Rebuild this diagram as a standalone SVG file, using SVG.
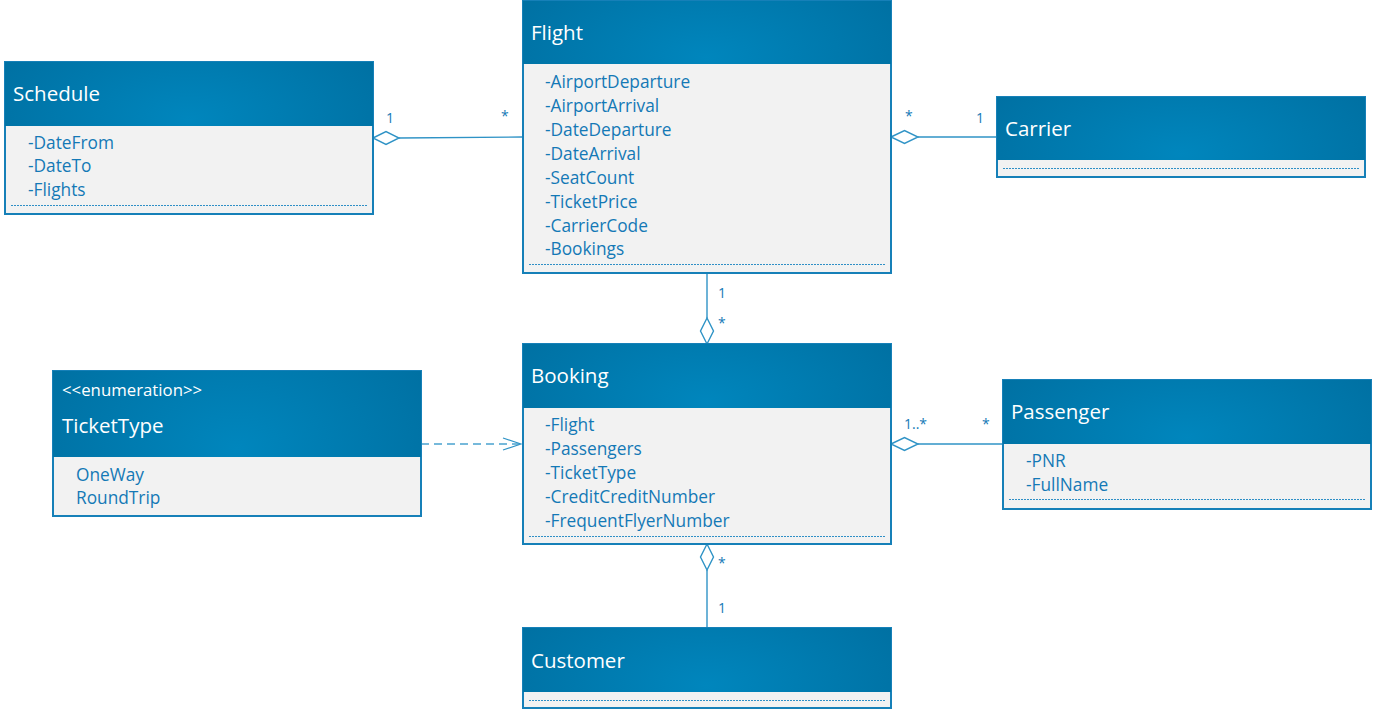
<svg xmlns="http://www.w3.org/2000/svg" width="1373" height="710" viewBox="0 0 1373 710">
<defs>
<radialGradient id="hdr" cx="0.5" cy="0.9" r="0.6" gradientTransform="translate(0.5 0.9) scale(1 3) translate(-0.5 -0.9)">
<stop offset="0" stop-color="#0086bd"/>
<stop offset="1" stop-color="#0070a2"/>
</radialGradient>
<marker id="open" markerWidth="20" markerHeight="14" refX="19" refY="7" orient="auto" markerUnits="userSpaceOnUse">
<path d="M1,1 L19,7 L1,13" fill="none" stroke="#2f93c6" stroke-width="1.2"/>
</marker>
</defs>
<style>
.box{fill:#f2f2f2;stroke:#1680b8;stroke-width:2}
.hd{fill:url(#hdr)}
.title{font-family:"Open Sans","Noto Sans",sans-serif;font-size:20.5px;fill:#ffffff}
.stereo{font-family:"Open Sans","Noto Sans",sans-serif;font-size:16.8px;fill:#ffffff}
.attr{font-family:"Open Sans","Noto Sans",sans-serif;font-size:17.3px;fill:#1479b6}
.dot{stroke:#2f8fc6;stroke-width:1;stroke-dasharray:2 1;fill:none;shape-rendering:crispEdges}
.ln{stroke:#2f93c6;stroke-width:1.4;fill:none}
.dia{fill:#ffffff;stroke:#2f93c6;stroke-width:1.4}
.mult{font-family:"Open Sans","Noto Sans",sans-serif;font-size:14px;fill:#1479b6}
.dash{stroke:#4aa3cf;stroke-width:1.4;stroke-dasharray:8 5;fill:none}
</style>
<g id="connectors">
<line class="ln" x1="399" y1="138" x2="522" y2="137"/>
<polygon class="dia" points="373,138 386,131.5 399,138 386,144.5"/>
<text class="mult" x="386" y="123">1</text>
<text class="mult" x="501" y="121">*</text>
<line class="ln" x1="918" y1="137" x2="997" y2="137"/>
<polygon class="dia" points="891,137 904.5,130.5 918,137 904.5,143.5"/>
<text class="mult" x="905" y="121">*</text>
<text class="mult" x="976" y="123">1</text>
<line class="ln" x1="707" y1="273" x2="707" y2="318"/>
<polygon class="dia" points="707,318 713.5,331 707,344 700.5,331"/>
<text class="mult" x="718" y="298">1</text>
<text class="mult" x="718" y="328">*</text>
<line class="dash" x1="421" y1="444" x2="521" y2="444" marker-end="url(#open)"/>
<line class="ln" x1="918" y1="444" x2="1002" y2="444"/>
<polygon class="dia" points="891,444 904.5,437.5 918,444 904.5,450.5"/>
<text class="mult" x="904" y="429">1..*</text>
<text class="mult" x="982" y="429">*</text>
<line class="ln" x1="707" y1="570" x2="707" y2="628"/>
<polygon class="dia" points="707,544 713.5,557 707,570 700.5,557"/>
<text class="mult" x="718" y="568">*</text>
<text class="mult" x="718" y="613">1</text>
</g>
<g id="schedule">
<rect class="box" x="5" y="62" width="368" height="152"/>
<rect class="hd" x="5" y="62" width="368" height="64"/>
<text class="title" x="13" y="101">Schedule</text>
<text class="attr" x="28" y="149">-DateFrom</text>
<text class="attr" x="28" y="172">-DateTo</text>
<text class="attr" x="28" y="196">-Flights</text>
<line class="dot" x1="11" y1="205.5" x2="367" y2="205.5"/>
</g>
<g id="flight">
<rect class="box" x="523" y="1" width="368" height="272"/>
<rect class="hd" x="523" y="1" width="368" height="63"/>
<text class="title" x="531" y="40">Flight</text>
<text class="attr" x="545" y="88">-AirportDeparture</text>
<text class="attr" x="545" y="112">-AirportArrival</text>
<text class="attr" x="545" y="136">-DateDeparture</text>
<text class="attr" x="545" y="160">-DateArrival</text>
<text class="attr" x="545" y="184">-SeatCount</text>
<text class="attr" x="545" y="208">-TicketPrice</text>
<text class="attr" x="545" y="232">-CarrierCode</text>
<text class="attr" x="545" y="255">-Bookings</text>
<line class="dot" x1="529" y1="264.5" x2="885" y2="264.5"/>
</g>
<g id="carrier">
<rect class="box" x="997" y="97" width="368" height="80"/>
<rect class="hd" x="997" y="97" width="368" height="63"/>
<text class="title" x="1005" y="136">Carrier</text>
<line class="dot" x1="1003" y1="168.5" x2="1359" y2="168.5"/>
</g>
<g id="tickettype">
<rect class="box" x="53" y="371" width="368" height="145"/>
<rect class="hd" x="53" y="371" width="368" height="86"/>
<text class="stereo" x="62" y="396">&lt;&lt;enumeration&gt;&gt;</text>
<text class="title" x="62" y="433">TicketType</text>
<text class="attr" x="76" y="481">OneWay</text>
<text class="attr" x="76" y="504">RoundTrip</text>
</g>
<g id="booking">
<rect class="box" x="523" y="344" width="368" height="200"/>
<rect class="hd" x="523" y="344" width="368" height="64"/>
<text class="title" x="531" y="383">Booking</text>
<text class="attr" x="545" y="431">-Flight</text>
<text class="attr" x="545" y="455">-Passengers</text>
<text class="attr" x="545" y="479">-TicketType</text>
<text class="attr" x="545" y="503">-CreditCreditNumber</text>
<text class="attr" x="545" y="527">-FrequentFlyerNumber</text>
<line class="dot" x1="529" y1="536.5" x2="885" y2="536.5"/>
</g>
<g id="passenger">
<rect class="box" x="1003" y="380" width="368" height="129"/>
<rect class="hd" x="1003" y="380" width="368" height="64"/>
<text class="title" x="1011" y="419">Passenger</text>
<text class="attr" x="1026" y="467">-PNR</text>
<text class="attr" x="1026" y="491">-FullName</text>
<line class="dot" x1="1009" y1="499.5" x2="1365" y2="499.5"/>
</g>
<g id="customer">
<rect class="box" x="523" y="628" width="368" height="80"/>
<rect class="hd" x="523" y="628" width="368" height="64"/>
<text class="title" x="531" y="668">Customer</text>
<line class="dot" x1="529" y1="700.5" x2="885" y2="700.5"/>
</g>
</svg>
